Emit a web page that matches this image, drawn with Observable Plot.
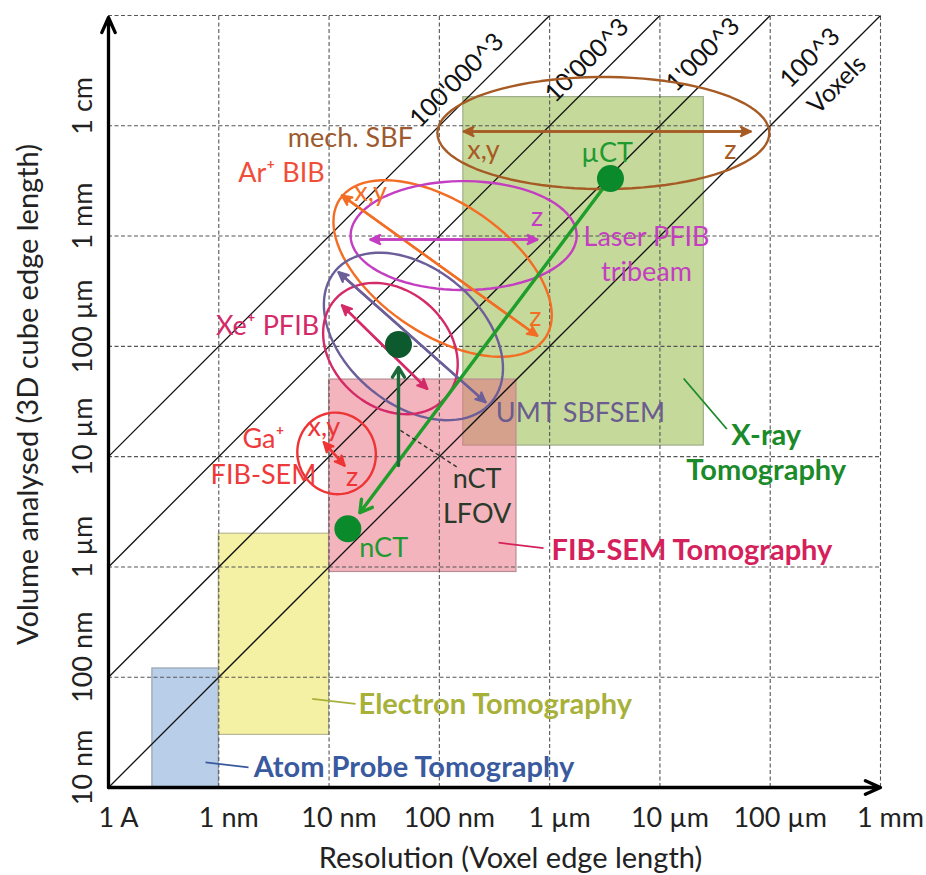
<!DOCTYPE html>
<html><head><meta charset="utf-8">
<script src="https://cdn.jsdelivr.net/npm/d3@7"></script>
<script src="https://cdn.jsdelivr.net/npm/@observablehq/plot@0.6"></script>
<style>html,body{margin:0;padding:0;background:#fff} svg{display:block}</style>
</head><body><div id="chart"></div>
<script>
// ---------- axes ----------
const xTicks = [1e-10, 1e-9, 1e-8, 1e-7, 1e-6, 1e-5, 1e-4, 1e-3];
const xTickLabels = ["1 A", "1 nm", "10 nm", "100 nm", "1 µm", "10 µm", "100 µm", "1 mm"];
const yTicks = [1e-8, 1e-7, 1e-6, 1e-5, 1e-4, 1e-3, 1e-2];
const yTickLabels = ["10 nm", "100 nm", "1 µm", "10 µm", "100 µm", "1 mm", "1 cm"];
const gridX = [1e-9, 1e-8, 1e-7, 1e-6, 1e-5, 1e-4, 1e-3];
const gridY = [1e-7, 1e-6, 1e-5, 1e-4, 1e-3, 1e-2, 1e-1];
const resMin = 1e-10, resMax = 1e-3, volMin = 1e-8, volMax = 1e-1;

// ---------- iso-voxel lines (N^3 voxels) ----------
const voxelEdge = [100, 1000, 10000, 100000];
const voxelLabels = ["100^3", "1'000^3", "10'000^3", "100'000^3"];
const voxelLabelRes = [3.08e-4, 3.29e-5, 2.92e-6, 1.93e-7];

// ---------- tomography regions ----------
const regions = ["Atom Probe Tomography", "Electron Tomography", "X-ray Tomography", "FIB-SEM Tomography"];
const regionResMin = [2.5e-10, 1e-9, 1.65e-7, 1e-8];
const regionResMax = [1e-9, 1e-8, 2.5e-5, 5e-7];
const regionVolMin = [1e-8, 3e-8, 1.26e-5, 9e-7];
const regionVolMax = [1.2e-7, 2e-6, 1.82e-2, 5e-5];
const regionLabels = ["Atom Probe Tomography", "Electron Tomography", "X-ray\nTomography", "FIB-SEM Tomography"];
const regionLabelRes = [2.07e-9, 1.85e-8, 9.2e-5, 1.04e-6];
const regionLabelVol = [1.52e-8, 5.66e-8, 1.12e-5, 1.41e-6];
const leaderRes1 = [7.58e-10, 7.03e-9, 1.64e-5, 3.44e-7];
const leaderVol1 = [1.69e-8, 6.37e-8, 5.11e-5, 1.66e-6];
const leaderRes2 = [1.86e-9, 1.74e-8, 4.04e-5, 8.8e-7];
const leaderVol2 = [1.52e-8, 5.74e-8, 1.78e-5, 1.48e-6];

// ---------- serial sectioning techniques (ellipses) ----------
const techniques = ["mech. SBF", "Ar⁺ BIB", "Laser PFIB tribeam", "UMT SBFSEM", "Xe⁺ PFIB", "Ga⁺ FIB-SEM"];
const ellipseRes = [3.07e-6, 1.07e-7, 1.66e-7, 5.82e-8, 3.6e-8, 1.17e-8];
const ellipseVol = [8.6e-3, 5.08e-4, 1.01e-3, 1.23e-4, 9.55e-5, 1.07e-5];
const ellipseMajorDec = [1.505, 1.124, 1.025, 0.925, 0.671, 0.372];
const ellipseMinorDec = [0.508, 0.598, 0.494, 0.617, 0.526, 0.354];
const ellipseTiltDeg = [0, 34, 0, 40, 42, 70];
const rangeRes1 = [1.67e-7, 1.31e-8, 2.38e-8, 1.22e-8, 1.31e-8, 8.96e-9];
const rangeVol1 = [8.87e-3, 2.33e-3, 9.3e-4, 4.7e-4, 2.35e-4, 1.35e-5];
const rangeRes2 = [6.63e-5, 7.71e-7, 7.71e-7, 2.62e-7, 7.76e-8, 1.38e-8];
const rangeVol2 = [8.87e-3, 1.25e-4, 9.3e-4, 3.12e-5, 4.12e-5, 8.3e-6];
const techLabels = ["mech. SBF", "Ar⁺ BIB", "Laser PFIB\ntribeam", "UMT SBFSEM", "Xe⁺ PFIB", "Ga⁺\nFIB-SEM"];
const techLabelRes = [1.56e-8, 3.7e-9, 7.55e-6, 1.9e-6, 2.77e-9, 2.54e-9];
const techLabelVol = [8.17e-3, 3.93e-3, 7.17e-4, 2.62e-5, 1.61e-4, 1.05e-5];
const noteTech = [0, 0, 1, 1, 2, 5, 5];
const noteText = ["x,y", "z", "x,y", "z", "z", "x,y", "z"];
const noteRes = [2.51e-7, 4.36e-5, 2.38e-8, 7.44e-7, 7.71e-7, 8.96e-9, 1.62e-8];
const noteVol = [5.97e-3, 5.97e-3, 2.5e-3, 1.84e-4, 1.48e-3, 1.85e-5, 6.5e-6];

// ---------- X-ray CT instruments ----------
const ctNames = ["µCT", "nCT", "nCT\nLFOV"];
const ctRes = [3.56e-6, 1.48e-8, 4.26e-8];
const ctVol = [3.33e-3, 2.22e-6, 1.04e-4];
const ctLabelRes = [3.32e-6, 3.13e-8, 2.2e-7];
const ctLabelVol = [5.97e-3, 1.56e-6, 4.54e-6];
const lfovBaseVol = 8.3e-6;
const lfovLeaderRes = [4.44e-8, 1.45e-7];
const lfovLeaderVol = [1.73e-5, 8.02e-6];

// ---------- styles ----------
const regionFill = ["#b9cfe9", "#f5f1a4", "#c5d99b", "#e8697e"];
const regionStroke = ["#97a3b3", "#b9b792", "#9fae8c", "#b88c92"];
const regionOpacity = [1, 1, 1, 0.5];
const regionTextColor = ["#3a5a9f", "#a7b13a", "#1b8a2a", "#d5215b"];
const techColor = ["#a65b25", "#f36d24", "#c33ec0", "#6c5e99", "#d42a68", "#ee3434"];
const techTextColor = ["#9c5a2e", "#f04e3a", "#c33ec0", "#6a5c8e", "#d42a68", "#ee3a3a"];
const FONT = "Lato, 'Open Sans', sans-serif";

// ---------- derived tables ----------
const regionData = regions.map((name, i) => ({
  name, x1: regionResMin[i], x2: regionResMax[i], y1: regionVolMin[i], y2: regionVolMax[i],
  fill: regionFill[i], stroke: regionStroke[i], op: regionOpacity[i], tc: regionTextColor[i],
  label: regionLabels[i], lx: regionLabelRes[i], ly: regionLabelVol[i],
  ax: leaderRes1[i], ay: leaderVol1[i], bx: leaderRes2[i], by: leaderVol2[i]
}));
const techData = techniques.map((name, i) => ({
  name, c: techColor[i], tc: techTextColor[i],
  r1: rangeRes1[i], v1: rangeVol1[i], r2: rangeRes2[i], v2: rangeVol2[i],
  label: techLabels[i], lx: techLabelRes[i], ly: techLabelVol[i]
}));
// ellipse outlines drawn in log-log space around each technique's centre
const ellipsePts = techniques.flatMap((name, i) => d3.range(0, 360, 4).map(deg => {
  const t = deg * Math.PI / 180, phi = ellipseTiltDeg[i] * Math.PI / 180;
  const u = ellipseMajorDec[i] * Math.cos(t), v = ellipseMinorDec[i] * Math.sin(t);
  return {name, c: techColor[i],
    x: ellipseRes[i] * Math.pow(10, u * Math.cos(phi) + v * Math.sin(phi)),
    y: ellipseVol[i] * Math.pow(10, -u * Math.sin(phi) + v * Math.cos(phi))};
}));
const noteData = noteText.map((t, i) => ({t, x: noteRes[i], y: noteVol[i], c: techColor[noteTech[i]]}));
const ctData = ctNames.map((name, i) => ({name, x: ctRes[i], y: ctVol[i], lx: ctLabelRes[i], ly: ctLabelVol[i]}));

const rectMarks = regionData.map(d => Plot.rect([d], {
  x1: "x1", x2: "x2", y1: "y1", y2: "y2", fill: d.fill, fillOpacity: d.op,
  stroke: d.stroke, strokeWidth: 1.2
}));

const dbl = {stroke: d => d.c, fill: d => d.c, strokeWidth: 2.4, headLength: 6.5, headAngle: 50};

const chart = Plot.plot({
  width: 926, height: 875,
  marginLeft: 108, marginRight: 46, marginTop: 15, marginBottom: 88,
  x: {type: "log", domain: [resMin, resMax], axis: null},
  y: {type: "log", domain: [volMin, volMax], axis: null},
  color: {type: "identity"},
  style: {fontFamily: FONT, background: "#fff", overflow: "visible"},
  marks: [
    ...rectMarks,
    // grid
    Plot.ruleX(gridX, {x: d => d, y1: () => volMin, y2: () => volMax, stroke: "#555", strokeWidth: 1.1, strokeDasharray: "4,2.5"}),
    Plot.ruleY(gridY, {y: d => d, x1: () => resMin, x2: () => resMax, stroke: "#555", strokeWidth: 1.1, strokeDasharray: "4,2.5"}),
    // iso-voxel diagonals
    Plot.link(voxelEdge, {x1: () => resMin, y1: n => n * resMin, x2: n => volMax / n, y2: () => volMax, stroke: "#111", strokeWidth: 1.3}),
    Plot.text(voxelEdge, {x: (n, i) => voxelLabelRes[i], y: (n, i) => n * voxelLabelRes[i], text: (n, i) => voxelLabels[i], rotate: -45, dx: -14, dy: -14, fontSize: 25, fill: "#111"}),
    Plot.text([voxelEdge[0]], {x: () => voxelLabelRes[0], y: n => n * voxelLabelRes[0], text: () => "Voxels", rotate: -45, dx: 13, dy: 13, fontSize: 25, fill: "#111"}),
    // region leaders and labels
    Plot.link(regionData, {x1: "ax", y1: "ay", x2: "bx", y2: "by", stroke: d => d.tc, strokeWidth: 1.8}),
    Plot.text(regionData.filter(d => d.name !== "X-ray Tomography"), {x: "lx", y: "ly", text: "label", fill: d => d.tc, fontSize: 29, fontWeight: "bold", textAnchor: "start"}),
    Plot.text(regionData.filter(d => d.name === "X-ray Tomography"), {x: "lx", y: "ly", text: "label", fill: d => d.tc, fontSize: 29, fontWeight: "bold", textAnchor: "middle", lineHeight: 1.2}),
    // ellipses
    Plot.line(ellipsePts, {x: "x", y: "y", z: "name", stroke: d => d.c, strokeWidth: 2.4, curve: "linear-closed"}),
    // double-headed range arrows
    Plot.arrow(techData, {x1: "r1", y1: "v1", x2: "r2", y2: "v2", ...dbl}),
    Plot.arrow(techData, {x1: "r2", y1: "v2", x2: "r1", y2: "v1", ...dbl}),
    // x-ray CT arrows
    Plot.arrow([ctData[0]], {x1: () => ctRes[0], y1: () => ctVol[0], x2: () => ctRes[1], y2: () => ctVol[1], insetEnd: 20, stroke: "#1f9e2c", strokeWidth: 3.4, headLength: 6, headAngle: 60}),
    Plot.arrow([ctData[2]], {x1: () => ctRes[2], y1: () => lfovBaseVol, x2: () => ctRes[2], y2: () => ctVol[2], insetEnd: 23, stroke: "#1c6a38", strokeWidth: 3.4, headLength: 5, headAngle: 64}),
    Plot.link([0], {x1: () => lfovLeaderRes[0], y1: () => lfovLeaderVol[0], x2: () => lfovLeaderRes[1], y2: () => lfovLeaderVol[1], stroke: "#333", strokeWidth: 1.4, strokeDasharray: "4,3"}),
    Plot.dot(ctData, {x: "x", y: "y", r: 13.5, fill: (d, i) => i === 2 ? "#0d5a2e" : "#0b8a2b"}),
    Plot.text(ctData, {x: "lx", y: "ly", text: "name", fill: (d, i) => i === 2 ? "#2a3a2a" : "#1e9a30", fontSize: 27, lineHeight: 1.3}),
    // technique labels and axis notes
    Plot.text(techData, {x: "lx", y: "ly", text: "label", fill: d => d.tc, fontSize: 27, lineHeight: 1.33}),
    Plot.text(noteData, {x: "x", y: "y", text: "t", fill: d => d.c, fontSize: 27}),
    // axes
    Plot.arrow([0], {x1: () => resMin, y1: () => volMin, x2: () => resMax, y2: () => volMin, stroke: "#000", strokeWidth: 3.3, headLength: 7.5, headAngle: 48}),
    Plot.arrow([0], {x1: () => resMin, y1: () => volMin, x2: () => resMin, y2: () => volMax, insetEnd: 2, stroke: "#000", strokeWidth: 3.3, headLength: 7.5, headAngle: 48}),
    Plot.text(xTickLabels, {x: (d, i) => xTicks[i], frameAnchor: "bottom", textAnchor: "middle", lineAnchor: "middle", dy: 31, dx: 10, text: d => d, fontSize: 27, fill: "#222"}),
    Plot.text(yTickLabels, {y: (d, i) => yTicks[i], frameAnchor: "left", textAnchor: "middle", lineAnchor: "middle", dx: -25, dy: -20, rotate: -90, text: d => d, fontSize: 27, fill: "#222"}),
    Plot.text(["Resolution (Voxel edge length)"], {frameAnchor: "bottom", textAnchor: "middle", lineAnchor: "middle", dx: 16, dy: 71, text: d => d, fontSize: 29, fill: "#222"}),
    Plot.text(["Volume analysed (3D cube edge length)"], {frameAnchor: "left", textAnchor: "middle", lineAnchor: "middle", dx: -80, dy: -7, rotate: -90, text: d => d, fontSize: 29, fill: "#222"})
  ]
});
document.getElementById("chart").appendChild(chart);
</script></body></html>
